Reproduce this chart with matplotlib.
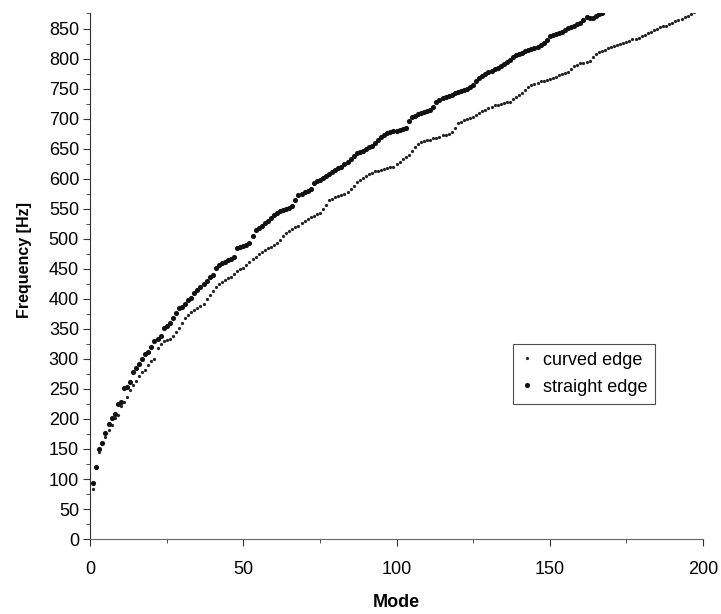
import matplotlib
matplotlib.use("Agg")
import matplotlib.pyplot as plt
from matplotlib.ticker import MultipleLocator

plt.rcParams['font.family'] = ['Liberation Sans', 'DejaVu Sans']

# frequencies [Hz], one per mode (mode = 1, 2, ...)
straight_edge = [
    93, 120, 150, 160, 176, 192, 202, 208, 225, 228,
    251, 254, 262, 279, 284, 292, 300, 308, 312, 320,
    330, 333, 338, 352, 355, 360, 368, 376, 384, 386,
    392, 398, 401, 410, 414, 420, 424, 430, 436, 440,
    452, 457, 459, 462, 464, 467, 470, 484, 486, 488,
    490, 493, 505, 515, 518, 522, 527, 530, 535, 540,
    543, 546, 548, 550, 552, 554, 565, 573, 575, 577,
    579, 582, 592, 596, 598, 601, 604, 607, 611, 614,
    617, 620, 624, 627, 632, 637, 642, 644, 646, 649,
    652, 655, 659, 664, 669, 673, 676, 678, 679, 680,
    681, 682, 684, 696, 702, 705, 708, 710, 711, 713,
    715, 720, 728, 731, 734, 736, 738, 740, 742, 744,
    746, 748, 750, 752, 756, 762, 767, 771, 775, 777,
    779, 782, 785, 787, 791, 795, 798, 802, 806, 808,
    810, 812, 814, 816, 818, 820, 823, 826, 831, 837,
    839, 841, 843, 845, 848, 851, 853, 855, 857, 860,
    865, 869, 868, 868, 871, 874, 876,
]

curved_edge = [
    83, 118, 145, 158, 170, 182, 190, 202, 207, 222,
    228, 236, 248, 256, 264, 272, 278, 282, 290, 296,
    300, 318, 325, 329, 331, 333, 338, 345, 352, 360,
    368, 373, 378, 382, 385, 388, 392, 400, 406, 413,
    420, 425, 428, 431, 434, 437, 442, 446, 449, 452,
    456, 462, 467, 470, 474, 478, 481, 484, 487, 490,
    493, 498, 504, 510, 513, 516, 519, 522, 526, 530,
    533, 536, 538, 541, 543, 550, 557, 564, 567, 569,
    571, 573, 575, 577, 582, 588, 595, 598, 601, 604,
    607, 610, 612, 613, 614, 616, 617, 619, 620, 624,
    628, 632, 636, 640, 646, 652, 658, 661, 663, 664,
    665, 667, 668, 670, 672, 673, 675, 677, 685, 692,
    695, 697, 699, 701, 703, 706, 709, 712, 714, 717,
    720, 722, 723, 724, 726, 727, 728, 732, 736, 740,
    743, 748, 752, 756, 758, 760, 762, 763, 765, 766,
    768, 770, 772, 774, 776, 778, 783, 787, 790, 792,
    793, 794, 796, 802, 808, 811, 813, 815, 817, 819,
    821, 823, 824, 826, 828, 830, 832, 833, 835, 837,
    839, 842, 845, 847, 849, 852, 854, 855, 857, 859,
    862, 864, 866, 869, 871, 874, 877,
]

curved_modes = list(range(1, len(curved_edge) + 1))
straight_modes = list(range(1, len(straight_edge) + 1))

fig = plt.figure(figsize=(7.21, 6.14), dpi=100)
ax = fig.add_axes([0.125, 0.122, 0.85, 0.857])

ax.plot(curved_modes, curved_edge, ls='none', marker='o', ms=2.3,
        color='#222222', mec='none', label='curved edge')
ax.plot(straight_modes, straight_edge, ls='none', marker='o', ms=3.7,
        color='#111111', mec='none', label='straight edge')

ax.set_xlim(0, 200)
ax.set_ylim(0, 876)
ax.xaxis.set_major_locator(MultipleLocator(50))
ax.xaxis.set_minor_locator(MultipleLocator(25))
ax.yaxis.set_major_locator(MultipleLocator(50))
ax.yaxis.set_minor_locator(MultipleLocator(25))
ax.tick_params(which='both', direction='out', labelsize=13, color='#333333')
ax.tick_params(which='major', length=5)
ax.tick_params(which='minor', length=3)
ax.tick_params(axis='x', pad=11)
ax.tick_params(axis='y', pad=3)

ax.spines['top'].set_visible(False)
ax.spines['right'].set_visible(False)
ax.spines['left'].set_color('#333333')
ax.spines['bottom'].set_color('#666666')

ax.set_xlabel('Mode', fontsize=13, fontweight='bold', labelpad=11)
ax.set_ylabel('Frequency [Hz]', fontsize=11.5, fontweight='bold')
ax.yaxis.set_label_coords(-0.095, 0.53)

leg = ax.legend(loc='lower left', bbox_to_anchor=(0.69, 0.257), fontsize=13,
                frameon=True, fancybox=False, handlelength=0.6,
                handletextpad=0.6, borderpad=0.45, labelspacing=0.55,
                markerscale=1.0, borderaxespad=0)
leg.get_frame().set_edgecolor('#222222')
leg.get_frame().set_linewidth(0.8)

plt.savefig('out.png', dpi=100)
